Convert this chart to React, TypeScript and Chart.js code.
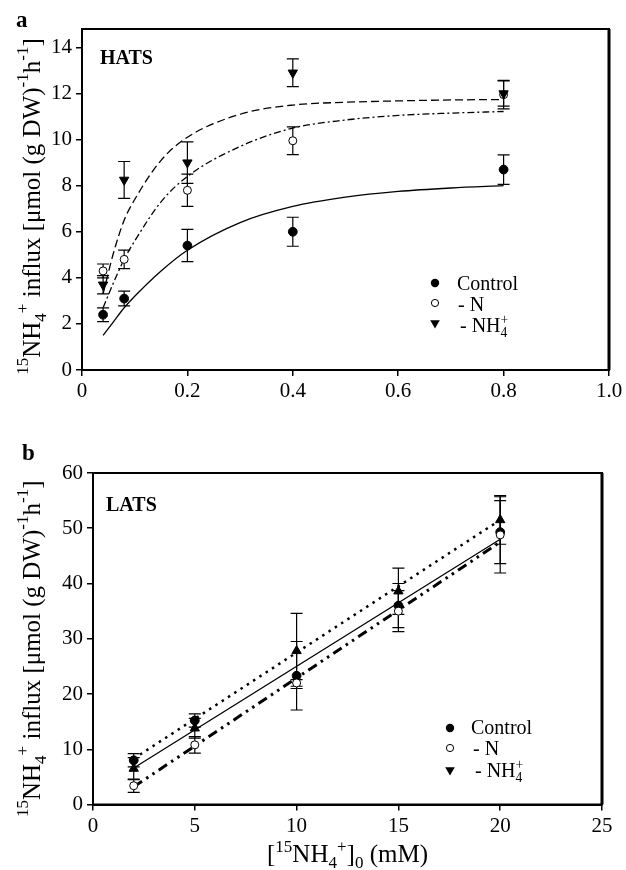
import React, { useEffect, useRef } from 'react';
import { Chart, registerables } from 'chart.js';
Chart.register(...registerables);

const FONT = '"Liberation Serif", "Times New Roman", serif';

// ---------- Panel a (HATS) ----------
const hatsConc = [0.04, 0.08, 0.2, 0.4, 0.8];
const hatsControl = [2.4, 3.1, 5.4, 6.0, 8.7];
const hatsControlErr = [0.3, 0.32, 0.7, 0.63, 0.64];
const hatsMinusN = [4.3, 4.8, 7.8, 9.95, 11.95];
const hatsMinusNErr = [0.3, 0.4, 0.7, 0.6, 0.62];
const hatsMinusNH4 = [3.7, 8.25, 9.0, 12.9, 12.0];
const hatsMinusNH4Err = [0.4, 0.8, 0.9, 0.6, 0.55];

const hatsFitConc = [0.04, 0.06, 0.08, 0.1, 0.15, 0.2, 0.3, 0.4, 0.5, 0.6, 0.7, 0.8];
const hatsFitControl = [1.5, 2.1, 2.7, 3.2, 4.3, 5.2, 6.4, 7.1, 7.5, 7.75, 7.9, 8.0];
const hatsFitMinusN = [2.7, 3.8, 4.8, 5.6, 7.3, 8.4, 9.7, 10.5, 10.85, 11.05, 11.15, 11.22];
const hatsFitMinusNH4 = [3.3, 5.1, 6.5, 7.4, 9.1, 10.1, 11.1, 11.5, 11.62, 11.68, 11.72, 11.74];

const hatsXTicks = [0, 0.2, 0.4, 0.6, 0.8, 1.0];
const hatsYTicks = [0, 2, 4, 6, 8, 10, 12, 14];

// ---------- Panel b (LATS) ----------
const latsConc = [2, 5, 10, 15, 20];
const latsControl = [8.0, 15.2, 23.3, 36.0, 49.3];
const latsControlErr = [1.2, 1.2, 6.2, 4.0, 5.7];
const latsMinusN = [3.4, 10.8, 22.0, 35.0, 48.8];
const latsMinusNErr = [1.2, 1.5, 0.6, 3.7, 6.9];
const latsMinusNH4 = [6.5, 13.8, 27.8, 38.6, 51.5];
const latsMinusNH4Err = [2.0, 1.8, 6.8, 4.2, 4.4];

const latsFitConc = [2, 20];
const latsFitControl = [6.6, 48.0];
const latsFitMinusN = [3.2, 47.5];
const latsFitMinusNH4 = [8.3, 51.5];

const latsXTicks = [0, 5, 10, 15, 20, 25];
const latsYTicks = [0, 10, 20, 30, 40, 50, 60];

const legendLabels = ['Control', '- N', '- NH'];

// ---------- rich text helpers ----------
type Run = { t: string; k?: 'sup' | 'sub' | 'stack'; s?: string };

function runWidth(ctx: CanvasRenderingContext2D, r: Run, size: number) {
  if (!r.k) {
    ctx.font = `${size}px ${FONT}`;
    return ctx.measureText(r.t).width;
  }
  ctx.font = `${size * 0.68}px ${FONT}`;
  if (r.k === 'stack') return Math.max(ctx.measureText(r.t).width, ctx.measureText(r.s || '').width);
  return ctx.measureText(r.t).width;
}

function drawRuns(ctx: CanvasRenderingContext2D, runs: Run[], x: number, y: number, size: number, align: 'left' | 'center', supRaise = 0.42) {
  const widths = runs.map((r) => runWidth(ctx, r, size));
  const total = widths.reduce((a, b) => a + b, 0);
  let cx = align === 'center' ? x - total / 2 : x;
  ctx.textAlign = 'left';
  ctx.textBaseline = 'alphabetic';
  runs.forEach((r, i) => {
    if (!r.k) {
      ctx.font = `${size}px ${FONT}`;
      ctx.fillText(r.t, cx, y);
    } else {
      ctx.font = `${size * 0.68}px ${FONT}`;
      if (r.k === 'sup') ctx.fillText(r.t, cx, y - size * supRaise);
      else if (r.k === 'sub') ctx.fillText(r.t, cx, y + size * 0.22);
      else {
        ctx.fillText(r.t, cx, y + size * 0.25);
        ctx.fillText(r.s || '', cx, y - size * 0.4);
      }
    }
    cx += widths[i];
  });
}

const yTitleRuns: Run[] = [
  { t: '15', k: 'sup' },
  { t: 'NH' },
  { t: '4', k: 'sub' },
  { t: '+', k: 'sup' },
  { t: ' influx [\u03bcmol (g DW)' },
  { t: '-1', k: 'sup' },
  { t: 'h' },
  { t: '-1', k: 'sup' },
  { t: ']' },
];

const xTitleRuns: Run[] = [
  { t: '[' },
  { t: '15', k: 'sup' },
  { t: 'NH' },
  { t: '4', k: 'sub' },
  { t: '+', k: 'sup' },
  { t: ']' },
  { t: '0', k: 'sub' },
  { t: ' (mM)' },
];

function drawMarker(ctx: CanvasRenderingContext2D, kind: string, x: number, y: number, r: number) {
  ctx.save();
  ctx.fillStyle = '#000';
  ctx.strokeStyle = '#000';
  ctx.lineWidth = 1;
  ctx.beginPath();
  if (kind === 'filled') {
    ctx.arc(x, y, r, 0, Math.PI * 2);
    ctx.fill();
  } else if (kind === 'open') {
    ctx.arc(x, y, r, 0, Math.PI * 2);
    ctx.fillStyle = '#fff';
    ctx.fill();
    ctx.stroke();
  } else {
    ctx.moveTo(x - r * 0.87, y - r * 0.5);
    ctx.lineTo(x + r * 0.87, y - r * 0.5);
    ctx.lineTo(x, y + r);
    ctx.closePath();
    ctx.fill();
  }
  ctx.restore();
}

type Deco = {
  letter: string;
  letterPos: [number, number];
  tag: string;
  tagPos: [number, number];
  legendMarkerX: number;
  legendTextX: number[];
  legendMarkerY: number[];
  legendBaseY: number[];
  titleOffset: number;
  xTitle?: [number, number];
};

function makePlugin(deco: Deco) {
  return {
    id: 'deco',
    beforeDatasetsDraw(chart: any) {
      const ctx: CanvasRenderingContext2D = chart.ctx;
      const xs = chart.scales.x;
      const ys = chart.scales.y;
      ctx.save();
      ctx.strokeStyle = '#000';
      ctx.lineWidth = 1.2;
      chart.data.datasets.forEach((ds: any) => {
        if (!ds.errors) return;
        ds.data.forEach((p: any, i: number) => {
          const e = ds.errors[i];
          const x = xs.getPixelForValue(p.x);
          const y1 = ys.getPixelForValue(p.y - e);
          const y2 = ys.getPixelForValue(p.y + e);
          ctx.beginPath();
          ctx.moveTo(x, y1);
          ctx.lineTo(x, y2);
          ctx.moveTo(x - 6, y1);
          ctx.lineTo(x + 6, y1);
          ctx.moveTo(x - 6, y2);
          ctx.lineTo(x + 6, y2);
          ctx.stroke();
        });
      });
      ctx.restore();
    },
    afterDraw(chart: any) {
      const ctx: CanvasRenderingContext2D = chart.ctx;
      const a = chart.chartArea;
      ctx.save();
      ctx.strokeStyle = '#000';
      ctx.lineWidth = 2;
      ctx.strokeRect(a.left, a.top, a.right - a.left, a.bottom - a.top);
      ctx.lineWidth = 3;
      ctx.beginPath();
      ctx.moveTo(a.right, a.top);
      ctx.lineTo(a.right, a.bottom);
      ctx.stroke();

      ctx.fillStyle = '#000';
      ctx.font = `bold 23px ${FONT}`;
      ctx.textAlign = 'left';
      ctx.textBaseline = 'alphabetic';
      ctx.fillText(deco.letter, deco.letterPos[0], deco.letterPos[1]);
      ctx.font = `bold 20px ${FONT}`;
      ctx.fillText(deco.tag, deco.tagPos[0], deco.tagPos[1]);

      // y title
      ctx.save();
      ctx.translate(40, (a.top + a.bottom) / 2 + deco.titleOffset);
      ctx.rotate(-Math.PI / 2);
      drawRuns(ctx, yTitleRuns, 0, 0, 25, 'center', 0.48);
      ctx.restore();

      if (deco.xTitle) {
        drawRuns(ctx, xTitleRuns, (a.left + a.right) / 2, deco.xTitle[1], 25, 'center', 0.42);
      }

      // legend
      const kinds = ['filled', 'open', 'tri'];
      const radii = [4.2, 3.6, 5.5];
      kinds.forEach((k, i) => {
        drawMarker(ctx, k, deco.legendMarkerX, deco.legendMarkerY[i], radii[i]);
      });
      ctx.fillStyle = '#000';
      drawRuns(ctx, [{ t: legendLabels[0] }], deco.legendTextX[0], deco.legendBaseY[0], 20, 'left');
      drawRuns(ctx, [{ t: legendLabels[1] }], deco.legendTextX[1], deco.legendBaseY[1], 20, 'left');
      drawRuns(ctx, [{ t: legendLabels[2] }, { t: '4', k: 'stack', s: '+' }], deco.legendTextX[2], deco.legendBaseY[2], 20, 'left');
      ctx.restore();
    },
  };
}

function pts(xs: number[], ys: number[]) {
  return xs.map((x, i) => ({ x, y: ys[i] }));
}

function axis(min: number, max: number, ticks: number[], fmt: (v: number) => string, fit: (s: any) => void, pad: number) {
  return {
    type: 'linear' as const,
    min,
    max,
    afterFit: fit,
    afterBuildTicks: (s: any) => {
      s.ticks = ticks.map((v) => ({ value: v }));
    },
    ticks: {
      callback: (v: any) => fmt(Number(v)),
      font: { family: FONT, size: 21 },
      color: '#000',
      padding: pad,
      maxRotation: 0,
      autoSkip: false,
    },
    grid: {
      drawOnChartArea: false,
      drawTicks: true,
      tickLength: 6,
      color: '#000',
      lineWidth: 1.5,
    },
    border: { display: true, color: '#000', width: 2 },
  };
}

function markerSets(xs: number[], c: number[], ce: number[], n: number[], ne: number[], h: number[], he: number[], up: boolean) {
  return [
    {
      label: '- NH4+',
      data: pts(xs, h),
      errors: he,
      pointStyle: 'triangle',
      pointRotation: up ? 0 : 180,
      pointRadius: 5.4,
      backgroundColor: '#000',
      borderColor: '#000',
      borderWidth: 1,
      showLine: false,
    },
    {
      label: '- N',
      data: pts(xs, n),
      errors: ne,
      pointStyle: 'circle',
      pointRadius: 4,
      backgroundColor: '#fff',
      borderColor: '#000',
      borderWidth: 1,
      showLine: false,
    },
    {
      label: 'Control',
      data: pts(xs, c),
      errors: ce,
      pointStyle: 'circle',
      pointRadius: 4.4,
      backgroundColor: '#000',
      borderColor: '#000',
      borderWidth: 1,
      showLine: false,
    },
  ];
}

function lineSet(label: string, xs: number[], ys: number[], dash: number[], width: number) {
  return {
    label,
    data: pts(xs, ys),
    showLine: true,
    pointRadius: 0,
    borderColor: '#000',
    borderWidth: width,
    borderDash: dash,
    cubicInterpolationMode: 'monotone',
    fill: false,
  };
}

function configA(): any {
  return {
    type: 'scatter',
    data: {
      datasets: [
        ...markerSets(hatsConc, hatsControl, hatsControlErr, hatsMinusN, hatsMinusNErr, hatsMinusNH4, hatsMinusNH4Err, false),
        lineSet('Control fit', hatsFitConc, hatsFitControl, [], 1.3),
        lineSet('- N fit', hatsFitConc, hatsFitMinusN, [7, 3, 2, 3], 1.3),
        lineSet('- NH4+ fit', hatsFitConc, hatsFitMinusNH4, [8, 4], 1.3),
      ],
    },
    options: {
      responsive: false,
      animation: false,
      devicePixelRatio: 1,
      layout: { padding: { left: 0, right: 17, top: 29, bottom: 10 } },
      plugins: { legend: { display: false }, tooltip: { enabled: false } },
      scales: {
        x: axis(0, 1, hatsXTicks, (v) => (v === 0 ? '0' : v.toFixed(1)), (s: any) => { s.height = 40; }, 3),
        y: axis(0, 14.8, hatsYTicks, (v) => String(v), (s: any) => { s.width = 82; }, 4),
      },
    },
    plugins: [
      makePlugin({
        letter: 'a',
        letterPos: [16, 27],
        tag: 'HATS',
        tagPos: [100, 64],
        legendMarkerX: 435,
        legendTextX: [457, 458, 460],
        legendMarkerY: [283, 303, 323],
        legendBaseY: [290, 311, 332],
        titleOffset: 7,
      }),
    ],
  };
}

function configB(): any {
  return {
    type: 'scatter',
    data: {
      datasets: [
        ...markerSets(latsConc, latsControl, latsControlErr, latsMinusN, latsMinusNErr, latsMinusNH4, latsMinusNH4Err, true),
        lineSet('Control fit', latsFitConc, latsFitControl, [], 1.3),
        lineSet('- N fit', latsFitConc, latsFitMinusN, [10, 5, 2.5, 5, 2.5, 5], 3),
        lineSet('- NH4+ fit', latsFitConc, latsFitMinusNH4, [2.5, 5], 2.5),
      ],
    },
    options: {
      responsive: false,
      animation: false,
      devicePixelRatio: 1,
      layout: { padding: { left: 0, right: 24, top: 53, bottom: 25.5 } },
      plugins: { legend: { display: false }, tooltip: { enabled: false } },
      scales: {
        x: axis(0, 25, latsXTicks, (v) => String(v), (s: any) => { s.height = 40; }, 3),
        y: axis(0, 60, latsYTicks, (v) => String(v), (s: any) => { s.width = 93; }, 4),
      },
    },
    plugins: [
      makePlugin({
        letter: 'b',
        letterPos: [22, 40],
        tag: 'LATS',
        tagPos: [106, 91],
        legendMarkerX: 450,
        legendTextX: [471, 473, 475],
        legendMarkerY: [308, 328, 350],
        legendBaseY: [314, 335, 357],
        titleOffset: 10,
        xTitle: [347, 442],
      }),
    ],
  };
}

export default function App() {
  const refA = useRef<HTMLCanvasElement>(null);
  const refB = useRef<HTMLCanvasElement>(null);
  useEffect(() => {
    const ca = new Chart(refA.current as HTMLCanvasElement, configA());
    const cb = new Chart(refB.current as HTMLCanvasElement, configB());
    return () => {
      ca.destroy();
      cb.destroy();
    };
  }, []);
  return (
    <div style={{ position: 'absolute', left: 0, top: 0, width: 626, height: 870, background: '#fff' }}>
      <canvas ref={refA} width={626} height={420} style={{ position: 'absolute', left: 0, top: 0, width: 626, height: 420 }} />
      <canvas ref={refB} width={626} height={450} style={{ position: 'absolute', left: 0, top: 420, width: 626, height: 450 }} />
    </div>
  );
}
